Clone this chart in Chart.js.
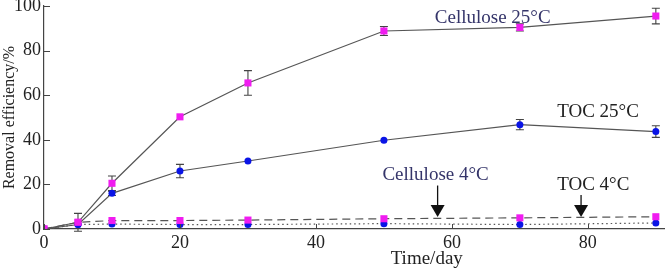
<!DOCTYPE html>
<html><head><meta charset="utf-8">
<script src="https://cdn.jsdelivr.net/npm/chart.js@4/dist/chart.umd.min.js"></script>
<style>html,body{margin:0;padding:0;background:#fff}#w{width:669px;height:268px}</style>
</head><body><div id="w"><canvas id="c"></canvas></div>
<script>
const days = [0, 5, 10, 20, 30, 50, 70, 90];
const cellulose25 = [0, 3, 20.5, 50.3, 65.5, 88.8, 90.4, 95.5];
const cellulose25Err = [0, 4, 3.3, 0, 5.5, 2, 1.6, 3.5];
const toc25 = [0, 2, 16, 26, 30.5, 39.8, 46.8, 43.7];
const toc25Err = [0, 0, 1, 3, 0, 0, 2.3, 2.6];
const cellulose4 = [0, 3, 3.8, 3.8, 4, 4.6, 5, 5.5];
const toc4 = [0, 2, 2.2, 2, 2, 2.4, 2, 2.7];
const xTicks = [0, 20, 40, 60, 80];
const yTicks = [0, 20, 40, 60, 80, 100];

const FONT = '"Liberation Serif", "Times New Roman", serif';
const MAG = '#f01cf0', BLUE = '#0a14e6', LINE = '#555';

function pts(ys){ return days.map((d,i)=>({x:d,y:ys[i]})); }

const annotations = [
  {text:'Cellulose 25°C', x:66, y:94.5, color:'#35356a'},
  {text:'TOC 25°C', x:81.5, y:52.5, color:'#222'},
  {text:'Cellulose 4°C', x:57.6, y:24.4, color:'#35356a'},
  {text:'TOC 4°C', x:80.8, y:19.8, color:'#222'}
];
const arrows = [
  {x:57.9, y0:19.5, y1:5.4},
  {x:79.0, y0:15.2, y1:5.4}
];

const errPlugin = {
  id:'err',
  beforeDatasetsDraw(chart){
    const {ctx, scales:{x, y}} = chart;
    ctx.save();
    ctx.strokeStyle = '#444'; ctx.lineWidth = 1.1;
    [[cellulose25, cellulose25Err],[toc25, toc25Err]].forEach(([v,e])=>{
      days.forEach((d,i)=>{
        if(!e[i]) return;
        const px = x.getPixelForValue(d);
        const t = y.getPixelForValue(v[i]+e[i]);
        const b = y.getPixelForValue(v[i]-e[i]);
        ctx.beginPath();
        ctx.moveTo(px,t); ctx.lineTo(px,b);
        ctx.moveTo(px-4,t); ctx.lineTo(px+4,t);
        ctx.moveTo(px-4,b); ctx.lineTo(px+4,b);
        ctx.stroke();
      });
    });
    ctx.restore();
  },
  afterDraw(chart){
    const {ctx, scales:{x, y}, chartArea} = chart;
    ctx.save();
    ctx.strokeStyle = '#444'; ctx.lineWidth = 1;
    ctx.beginPath();
    xTicks.forEach(v=>{ const px = Math.round(x.getPixelForValue(v))+0.5; ctx.moveTo(px, chartArea.bottom); ctx.lineTo(px, chartArea.bottom-5); });
    yTicks.forEach(v=>{ const py = Math.round(y.getPixelForValue(v))+0.5; ctx.moveTo(chartArea.left, py); ctx.lineTo(chartArea.left+6, py); });
    ctx.stroke();
    ctx.font = '19px ' + FONT;
    ctx.textAlign = 'center'; ctx.textBaseline = 'middle';
    annotations.forEach(a=>{ ctx.fillStyle = a.color; ctx.fillText(a.text, x.getPixelForValue(a.x), y.getPixelForValue(a.y)); });
    ctx.strokeStyle = '#111'; ctx.fillStyle = '#111'; ctx.lineWidth = 1.3;
    arrows.forEach(a=>{
      const px = x.getPixelForValue(a.x), p0 = y.getPixelForValue(a.y0), p1 = y.getPixelForValue(a.y1);
      ctx.beginPath(); ctx.moveTo(px,p0); ctx.lineTo(px,p1-10); ctx.stroke();
      ctx.beginPath(); ctx.moveTo(px-7,p1-12); ctx.lineTo(px+7,p1-12); ctx.lineTo(px,p1); ctx.closePath(); ctx.fill();
    });
    ctx.fillStyle = '#222'; ctx.font = '19px ' + FONT;
    ctx.fillText('Time/day', x.getPixelForValue(56.3), 259);
    ctx.restore();
  }
};

new Chart(document.getElementById('c'), {
  type:'line',
  data:{datasets:[
    {data:pts(cellulose25), borderColor:LINE, borderWidth:1.2, pointStyle:'rect', pointRadius:5, pointBackgroundColor:MAG, pointBorderColor:MAG, pointBorderWidth:0},
    {data:pts(toc25), borderColor:LINE, borderWidth:1.2, pointStyle:'circle', pointRadius:3.5, pointBackgroundColor:BLUE, pointBorderColor:BLUE, pointBorderWidth:0},
    {data:pts(cellulose4), borderColor:LINE, borderWidth:1.2, borderDash:[8,5], pointStyle:'rect', pointRadius:5, pointBackgroundColor:MAG, pointBorderColor:MAG, pointBorderWidth:0},
    {data:pts(toc4), borderColor:LINE, borderWidth:1.2, borderDash:[1.5,3], pointStyle:'circle', pointRadius:3.5, pointBackgroundColor:BLUE, pointBorderColor:BLUE, pointBorderWidth:0}
  ]},
  options:{
    responsive:true, maintainAspectRatio:false, animation:false,
    layout:{padding:{top:6, right:2, left:0, bottom:0}},
    plugins:{legend:{display:false}, tooltip:{enabled:false}},
    scales:{
      x:{type:'linear', min:0, max:91.2,
         afterBuildTicks(s){ s.ticks = xTicks.map(v=>({value:v})); },
         afterFit(s){ s.height = 39; s.paddingLeft = 0; s.paddingRight = 0; },
         grid:{display:false, drawTicks:false}, border:{display:true, color:'#444', width:1.2},
         ticks:{font:{family:FONT, size:18}, color:'#222', padding:3, maxRotation:0}},
      y:{type:'linear', min:0, max:100,
         afterBuildTicks(s){ s.ticks = yTicks.map(v=>({value:v})); },
         afterFit(s){ s.width = 44; s.paddingTop = 0; s.paddingBottom = 0; },
         grid:{display:false, drawTicks:false}, border:{display:true, color:'#444', width:1.2},
         ticks:{font:{family:FONT, size:18}, color:'#222', padding:3},
         title:{display:true, text:'Removal efficiency/%', font:{family:FONT, size:16}, color:'#222', padding:0}}
    }
  },
  plugins:[errPlugin]
});
</script></body></html>
